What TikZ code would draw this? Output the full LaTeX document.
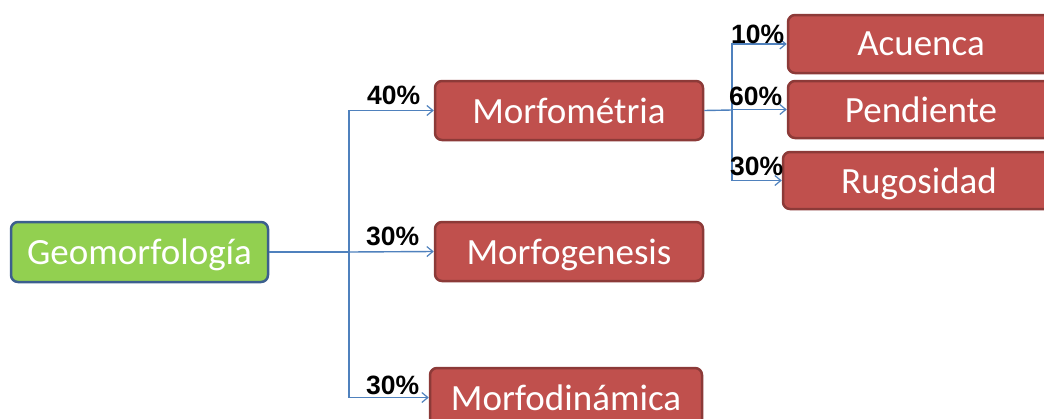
\documentclass[tikz,border=0pt]{standalone}
\usepackage{fontspec}
\setmainfont{Carlito}
\newfontfamily\pctfont{Liberation Sans}
\usetikzlibrary{arrows.meta}
\definecolor{gfill}{HTML}{92D050}
\definecolor{gline}{HTML}{3C5F8E}
\definecolor{rfill}{HTML}{C0504D}
\definecolor{rline}{HTML}{8C3A38}
\definecolor{conn}{HTML}{4F81BD}
\tikzset{
  box/.style={draw, line width=2.5pt, rounded corners=7pt, inner sep=0pt,
    text=white, font=\fontsize{37}{37}\selectfont, text depth=0pt},
  greenbox/.style={box, fill=gfill, draw=gline},
  redbox/.style={box, fill=rfill, draw=rline},
  pct/.style={anchor=base west, inner sep=0pt, font=\pctfont\bfseries\fontsize{26.5}{26.5}\selectfont},
  link/.style={draw=conn, line width=1.4pt},
  arr/.style={link, -{Straight Barb[length=6pt,width=10pt,line width=1.2pt]}},
}
\begin{document}
\begin{tikzpicture}[x=1pt,y=-1pt]
\useasboundingbox (0,0) rectangle (1044,418);
% main nodes
\node[greenbox, minimum width=257pt, minimum height=60pt] (geo) at (139.5,252) {Geomorfolog\'ia};
\node[redbox, minimum width=268pt, minimum height=59pt] (mm) at (569,110.5) {Morfom\'etria};
\node[redbox, minimum width=268pt, minimum height=59pt] (mg) at (569,251.5) {Morfogenesis};
\node[redbox, minimum width=272pt, minimum height=59pt] (md) at (566,397.5) {Morfodin\'amica};
\node[redbox, minimum width=266pt, minimum height=58pt] (ac) at (921,44) {Acuenca};
\node[redbox, minimum width=266pt, minimum height=57pt] (pe) at (921,109.5) {Pendiente};
\node[redbox, minimum width=272pt, minimum height=57pt] (ru) at (919,180.5) {Rugosidad};
% junctions
\coordinate (j1) at (349,252);
\coordinate (j2) at (732,110);
% connectors
\draw[link] (geo.east) -- (j1);
\draw[arr] (j1) |- (mm.west);
\draw[arr] (j1) -- (mg.west);
\draw[arr] (j1) |- (md.west);
\draw[link] (mm.east) -- (j2);
\draw[arr] (j2) |- (ac.west);
\draw[arr] (j2) |- (pe.west);
\draw[arr] (j2) |- (ru.west);
% labels
\node[pct] (p1) at (367,104) {40\%};
\node[pct] (p2) at (366,245) {30\%};
\node[pct] (p3) at (366,394) {30\%};
\node[pct] (p4) at (731,43) {10\%};
\node[pct] (p5) at (729,105) {60\%};
\node[pct] (p6) at (730,175) {30\%};
\end{tikzpicture}
\end{document}
